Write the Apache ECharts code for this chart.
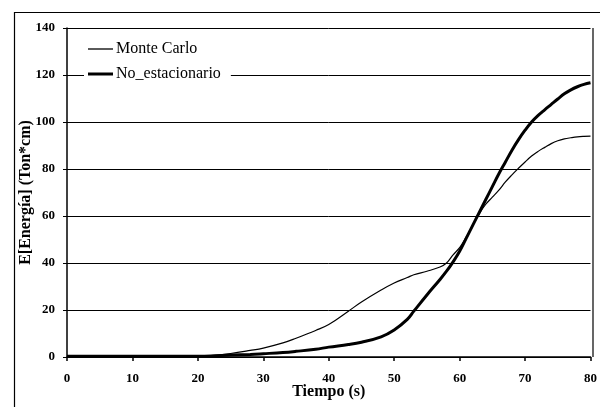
<!DOCTYPE html>
<html>
<head>
<meta charset="utf-8">
<script src="https://cdn.jsdelivr.net/npm/echarts@6/dist/echarts.min.js"></script>
<style>
html,body{margin:0;padding:0;background:#fff;}
#chart{width:600px;height:407px;}
</style>
</head>
<body>
<div id="chart"></div>
<script>
var tiempo = [0,5,10,15,20,22,25,28,30,33,35,38,40,43,45,48,50,52,53,55,57,58,59,60,61,62,63,64,65,66,67,68,69,70,71,72,73,74,75,76,77,78,79,80];
var monteCarlo = [0.3,0.3,0.3,0.3,0.4,0.6,1.5,2.8,3.8,6,8,11.3,13.8,19.5,23.4,28.5,31.5,33.8,35,36.5,38.3,40,43.5,46.5,51,56,61,65,68,71,74.5,77.5,80.3,83,85.5,87.5,89.2,90.8,92,92.8,93.3,93.7,93.9,94];
var noEstacionario = [0.3,0.3,0.3,0.3,0.3,0.4,0.8,1.1,1.4,1.9,2.4,3.3,4.2,5.3,6.3,8.6,11.5,16,19.5,26.4,33,36.5,40.5,45,50.5,56,61.5,67,72.5,78,83,88,92.5,96.5,100,102.8,105.2,107.5,109.8,112,113.7,115,116,116.7];
var seriesNames = ['Monte Carlo', 'No_estacionario'];
var xTicks = {min:0, max:80, interval:10};
var yTicks = {min:0, max:140, interval:20};

function pairs(xs, ys){ return xs.map(function(x,i){ return [x, ys[i]]; }); }

var serif = '"Liberation Serif", "DejaVu Serif", serif';
var legendText = {fontFamily:serif, fontSize:16, color:'#000', padding:[0,0,0,-2]};
var chart = echarts.init(document.getElementById('chart'));
chart.setOption({
  animation:false,
  backgroundColor:'#fff',
  graphic:[{
    type:'rect', left:12, top:10, shape:{width:620, height:420},
    style:{fill:'none', stroke:'#000', lineWidth:1.2}, silent:true, z:-1
  },{
    type:'line', shape:{x1:593, y1:28, x2:593, y2:357},
    style:{stroke:'#000', lineWidth:1.2}, z:10
  }],
  grid:{left:67, right:7, top:28, bottom:50, containLabel:false},
  legend:[{
    left:84, top:39, padding:[2,38,3,4],
    itemWidth:25, itemHeight:1.3, icon:'rect',
    backgroundColor:'#fff',
    textStyle:legendText,
    data:[seriesNames[0]]
  },{
    left:84, top:64, padding:[2,10,3,4],
    itemWidth:25, itemHeight:3, icon:'rect',
    backgroundColor:'#fff',
    textStyle:legendText,
    data:[seriesNames[1]]
  }],
  xAxis:{
    type:'value', min:xTicks.min, max:xTicks.max, interval:xTicks.interval,
    name:'Tiempo (s)', nameLocation:'middle', nameGap:27, nameMoveOverlap:false,
    nameTextStyle:{fontFamily:serif, fontWeight:'bold', fontSize:16, color:'#000'},
    axisLine:{show:true, lineStyle:{color:'#000', width:1.5}},
    axisTick:{show:true, length:4, inside:false, lineStyle:{color:'#000', width:1.5}},
    axisLabel:{fontFamily:serif, fontWeight:'bold', fontSize:13, color:'#000', margin:15},
    splitLine:{show:false}
  },
  yAxis:{
    type:'value', min:yTicks.min, max:yTicks.max, interval:yTicks.interval,
    name:'E[Energía] (Ton*cm)', nameLocation:'middle', nameGap:33, nameMoveOverlap:false,
    nameTextStyle:{fontFamily:serif, fontWeight:'bold', fontSize:16, color:'#000'},
    axisLine:{show:true, lineStyle:{color:'#000', width:1.5}},
    axisTick:{show:true, length:4, lineStyle:{color:'#000', width:1}},
    axisLabel:{fontFamily:serif, fontWeight:'bold', fontSize:13, color:'#000', margin:12},
    splitLine:{show:true, lineStyle:{color:'#000', width:1}}
  },
  series:[{
    name:seriesNames[0], type:'line', smooth:0.4, symbol:'none',
    data:pairs(tiempo, monteCarlo),
    lineStyle:{color:'#000', width:1.2}, itemStyle:{color:'#000'}, z:3
  },{
    name:seriesNames[1], type:'line', smooth:0.4, symbol:'none',
    data:pairs(tiempo, noEstacionario),
    lineStyle:{color:'#000', width:3}, itemStyle:{color:'#000'}, z:4
  }]
});
</script>
</body>
</html>
